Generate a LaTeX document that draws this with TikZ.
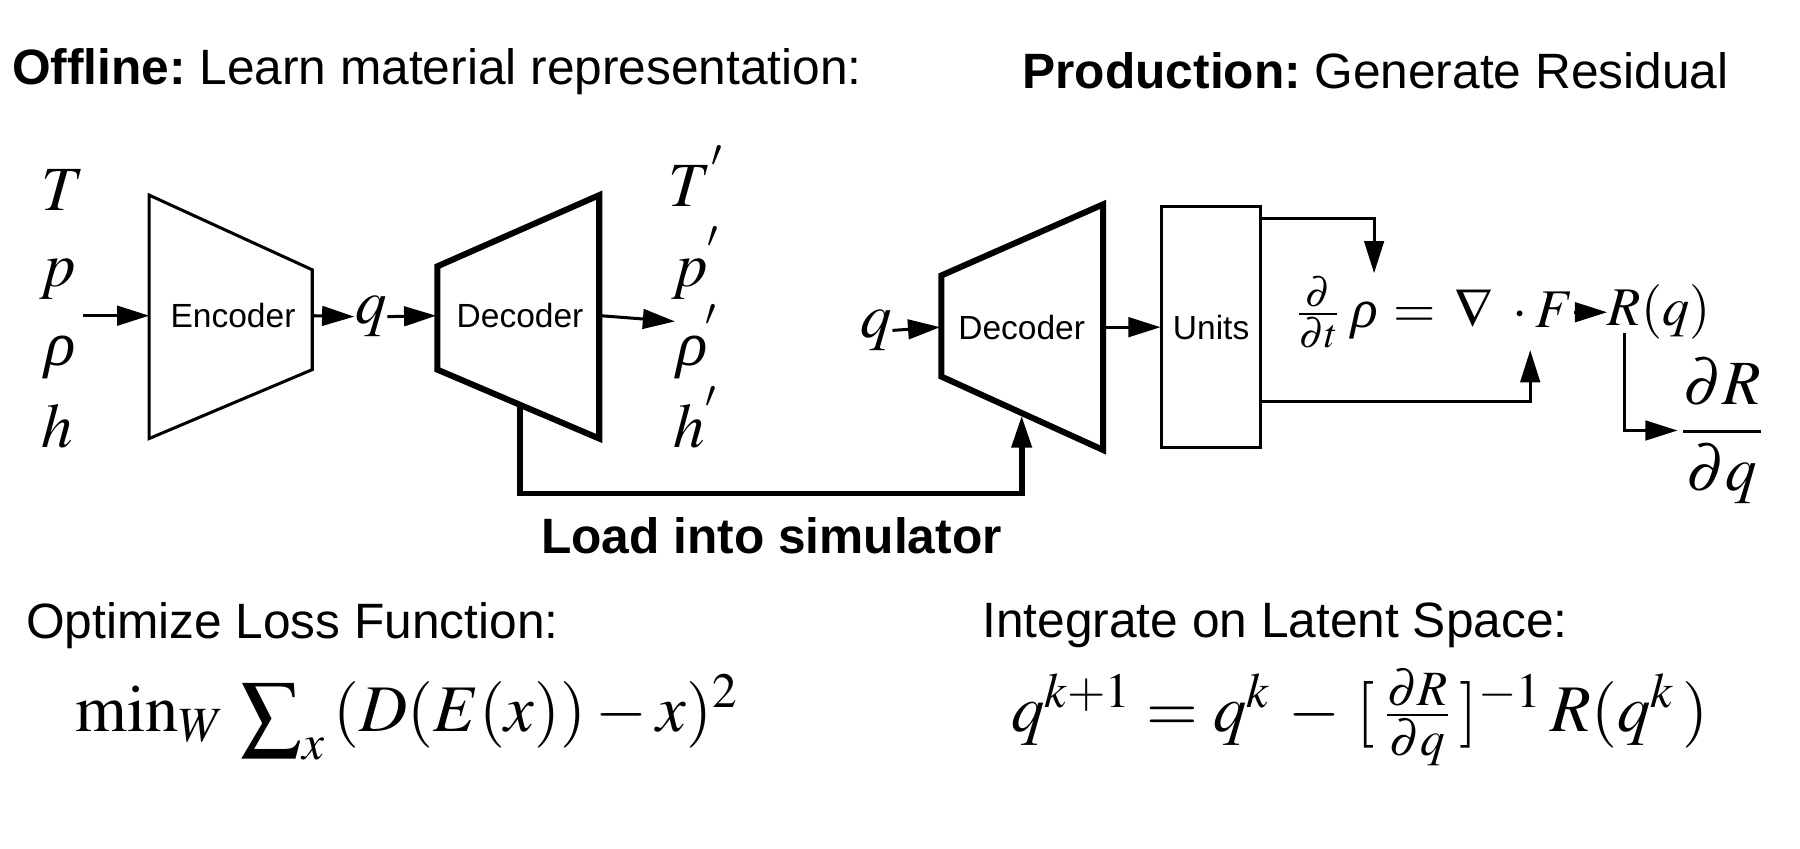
\documentclass[tikz,border=0pt]{standalone}
\usepackage{amsmath}
\usepackage{graphicx}
\usepackage{mathptmx}
\usepackage[no-math]{fontspec}
\setmainfont{Liberation Sans}
\newfontfamily\rhofont{Liberation Serif}[FakeSlant=0.22]
\newcommand\rh{\mbox{\rhofont ρ}}
\usetikzlibrary{arrows.meta}
\tikzset{
  lbl/.style={font=\fontsize{12.3}{14}\selectfont, inner sep=0pt},
  boxlbl/.style={font=\fontsize{8.3}{10}\selectfont, inner sep=0pt},
  mth/.style={font=\fontsize{15.6}{18}\selectfont, inner sep=0pt},
  smth/.style={font=\fontsize{13.5}{16}\selectfont, inner sep=0pt},
  bigmth/.style={font=\fontsize{16.5}{20}\selectfont, inner sep=0pt},
  thinln/.style={line width=0.75pt},
  thickln/.style={line width=1.5pt},
  arr/.style={line width=0.75pt, -{Triangle[length=2.8mm,width=1.7mm]}},
  tarr/.style={line width=1.4pt, -{Triangle[length=2.8mm,width=1.7mm]}},
}
\begin{document}
\begin{tikzpicture}[x=0.01cm,y=-0.01cm]
\useasboundingbox (0,0) rectangle (1568,739);
% titles
\node[lbl, anchor=west] (t1) at (10,62) {\textbf{Offline:}\hspace{-0.1em} Learn material representation:};
\node[lbl, anchor=west] (t2) at (890,62) {\textbf{Production:}\hspace{-0.1em} Generate Residual};
% inputs
\node[mth, anchor=base] (T) at (55,183) {$T$};
\node[mth, anchor=base] (p) at (50,250) {$p$};
\node[mth, anchor=base] (rho) at (50,318) {$\rh$};
\node[mth, anchor=base] (h) at (50,390) {$h$};
% encoder
\draw[thinln] (130,170) -- (272,235) -- (272,322) -- (130,382) -- cycle;
\node[boxlbl] (enc) at (203,275) {Encoder};
\coordinate (encW) at (130,275);
\coordinate (encE) at (272,275);
\coordinate (in0) at (72,275);
\draw[arr] (in0) -- (encW);
% q
\node[mth, anchor=base] (q1) at (323,282) {$q$};
\draw[arr] (encE) -- (q1.west);
% decoder 1
\draw[thickln, line join=miter] (381,232) -- (522,170) -- (522,382) -- (381,322) -- cycle;
\node[boxlbl] (dec1) at (453,275) {Decoder};
\coordinate (d1W) at (380,275);
\coordinate (d1E) at (523,275);
\draw[arr] (q1.east) -- (d1W);
\coordinate (outT) at (588,280);
\draw[arr] (d1E) -- (outT);
% outputs
\node[mth, anchor=base] (To) at (607,180) {$T^{'}$};
\node[mth, anchor=base] (po) at (607,250) {$p^{'}$};
\node[mth, anchor=base] (rhoo) at (607,318) {$\rh^{'}$};
\node[mth, anchor=base] (ho) at (607,390) {$h^{'}$};
% decoder 2
\draw[thickln, line join=miter] (820,240) -- (961,178) -- (961,392) -- (820,328) -- cycle;
\node[boxlbl] (dec2) at (890,285) {Decoder};
\coordinate (d2W) at (819,285);
\coordinate (d2E) at (962,285);
\node[mth, anchor=base] (q2) at (763,294) {$q$};
\draw[arr] (q2.east) -- (d2W);
% load line
\coordinate (d1b) at (453,352);
\coordinate (d2b) at (890,362);
\draw[tarr] (d1b) -- (453,430) -| (d2b);
\node[lbl] (load) at (672,467) {\textbf{Load into simulator}};
% units
\draw[thinln] (1012,180) rectangle (1098,390);
\node[boxlbl] (units) at (1055,285) {Units};
\coordinate (uW) at (1011,285);
\draw[arr] (d2E) -- (uW);
\coordinate (uT) at (1098,190);
\coordinate (uB) at (1098,350);
% equation
\node[smth, anchor=west] (eq) at (1127,272) {$\tfrac{\partial}{\partial t}\,\rh\,\;{=}\;\,\nabla\;\cdot F$};
\coordinate (rhoTop) at (1197,238);
\coordinate (FBot) at (1333,305);
\draw[arr] (uT) -| (rhoTop);
\draw[arr] (uB) -| (FBot);
\node[smth, anchor=west] (Rq) at (1400,272) {$R(q)$};
\draw[arr] (eq.east) -- (Rq.west);
\node[mth] (dRdq) at (1500,375) {$\dfrac{\partial R}{\partial q}$};
\coordinate (Rbot) at (1415,290);
\draw[arr] (Rbot) |- (dRdq.west);
% bottom
\node[lbl, anchor=west] (opt) at (22,545) {Optimize Loss Function:};
\node[lbl, anchor=west] (integ) at (855,545) {Integrate on Latent Space:};
\node[bigmth, anchor=west] (loss) at (65,625) {$\mathrm{min}_W\, \mathop{\raisebox{-0.15em}{\scalebox{1.3}{$\textstyle\sum$}}}\nolimits_x \,(D(E(x)) - x)^2$};
\node[bigmth, anchor=west] (upd) at (880,625) {$q^{k+1} = q^k \,-\, [\,\tfrac{\partial R}{\partial q}\,]^{-1}\, R(q^k\,)$};
\end{tikzpicture}
\end{document}
